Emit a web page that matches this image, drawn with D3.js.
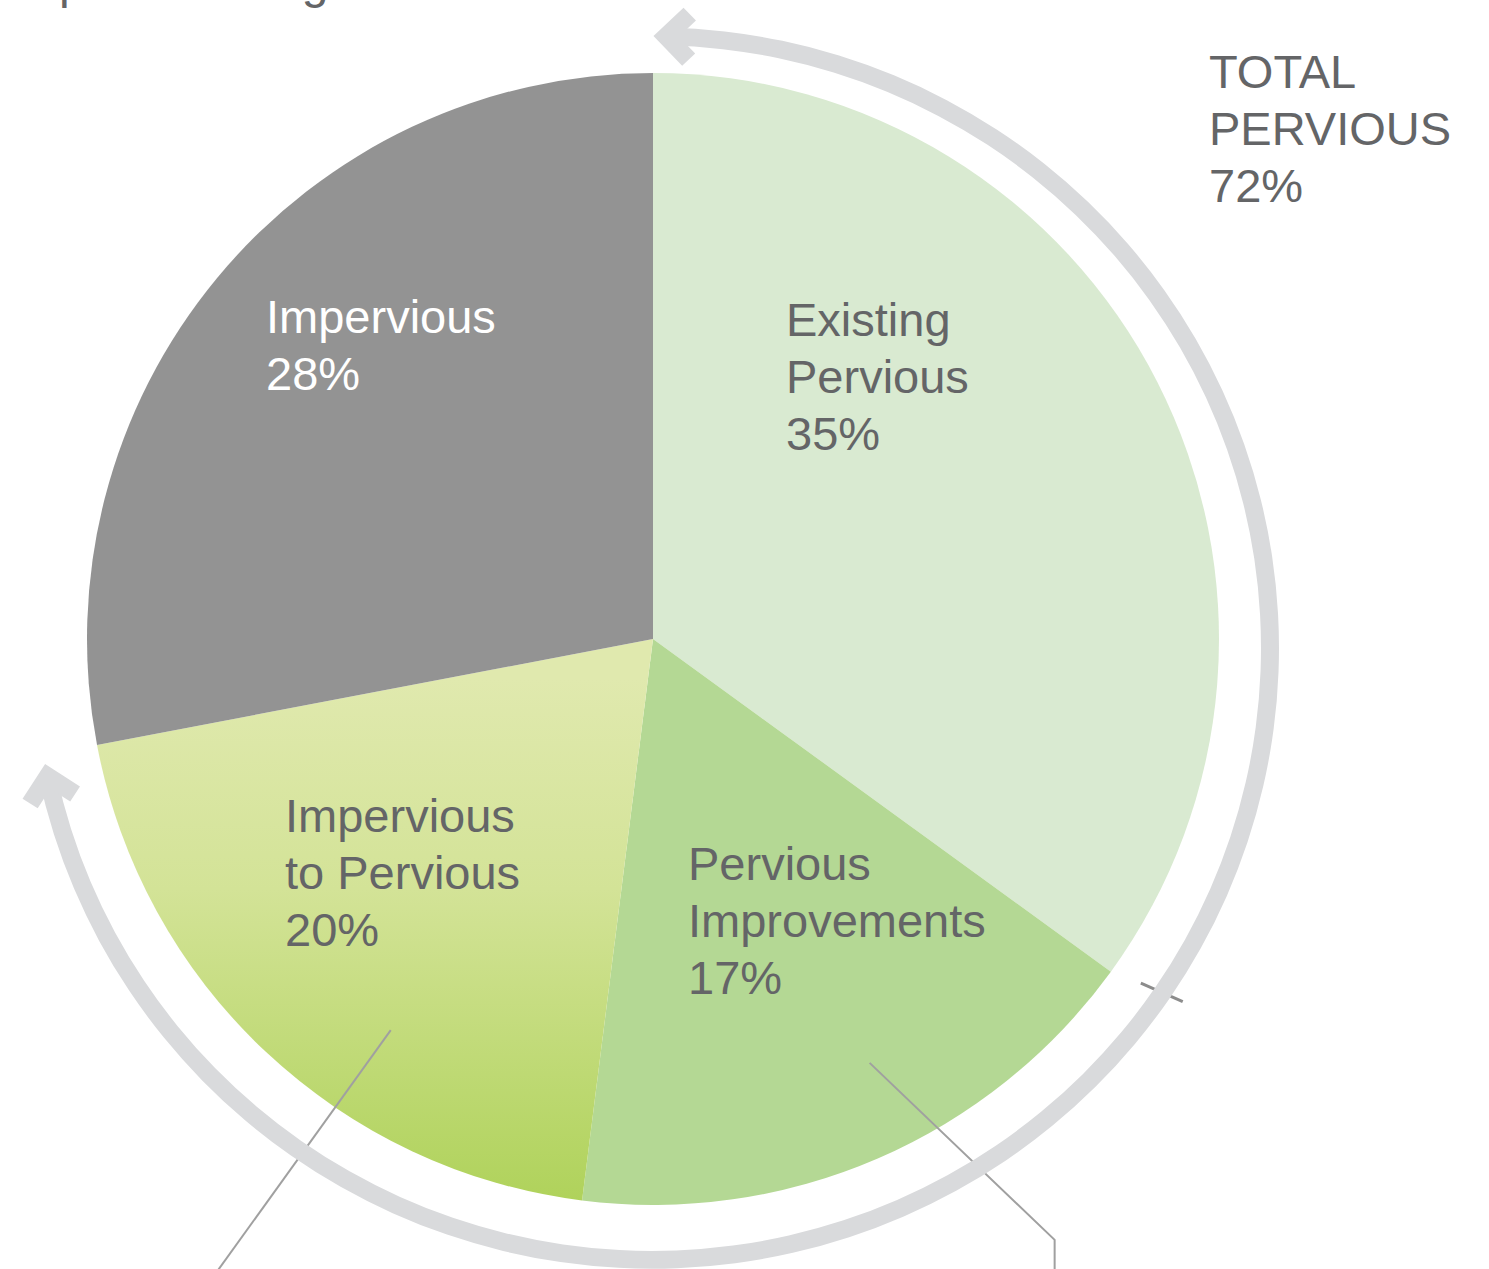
<!DOCTYPE html>
<html>
<head>
<meta charset="utf-8">
<script src="https://cdn.jsdelivr.net/npm/d3@7"></script>
<style>
  body { margin: 0; background: #fff; }
  svg { display: block; }
</style>
</head>
<body>
<script>
// slice data, clockwise from 12 o'clock
let categories = ["Existing Pervious", "Pervious Improvements", "Impervious to Pervious", "Impervious"];
let labelLines = [["Existing", "Pervious"], ["Pervious", "Improvements"], ["Impervious", "to Pervious"], ["Impervious"]];
let shares = [35, 17, 20, 28];
let perviousTotal = 72; // share covered by the outer arrow
let totalLines = ["TOTAL", "PERVIOUS"];

let svg = d3.select("body").append("svg")
	.attr("width", 1489)
	.attr("height", 1269);

let width = +svg.attr("width");
let height = +svg.attr("height");

let cx = 653, cy = 639, radius = 566; // pie
let ringCx = 652, ringCy = 648, ringR = 618, ringSquash = 0.99; // outer arrow

let textGray = "#646567";
let fills = ["#d9ead1", "#b4d894", "url(#convGrad)", "#939393"];
let labelFill = [textGray, textGray, textGray, "#ffffff"];
let labelPos = [[786, 336], [688, 880], [285, 832], [266, 333]];
let lineGap = 57;

// gradient for the converted slice (in the pie group's coordinates)
let defs = svg.append("defs");
let grad = defs.append("linearGradient")
	.attr("id", "convGrad")
	.attr("gradientUnits", "userSpaceOnUse")
	.attr("x1", 0).attr("x2", 0)
	.attr("y1", 40).attr("y2", radius);
grad.append("stop").attr("offset", "0%").attr("stop-color", "#e0e9ae");
grad.append("stop").attr("offset", "40%").attr("stop-color", "#d3e397");
grad.append("stop").attr("offset", "100%").attr("stop-color", "#afd25a");

// cropped heading at the top edge
svg.append("text")
	.attr("x", 27)
	.attr("y", -2)
	.attr("font-family", "Liberation Sans, Arial, sans-serif")
	.attr("font-size", 48)
	.attr("fill", textGray)
	.text("Spatial Change");

let pie = d3.pie().sort(null).value(d => d);
let arcs = pie(shares);

let arc = d3.arc().innerRadius(0).outerRadius(radius);

let g = svg.append("g")
	.attr("transform", `translate(${cx}, ${cy})`);

g.selectAll("path.slice")
	.data(arcs)
	.enter().append("path")
		.attr("class", "slice")
		.attr("d", arc)
		.attr("fill", (d, i) => fills[i]);

// outer ring arrow for total pervious
let angle = d3.scaleLinear().domain([0, 100]).range([0, 2 * Math.PI]);
let pad = 0.023;
let a0 = angle(0) + pad;
let a1 = angle(perviousTotal) - pad;

let ring = svg.append("g")
	.attr("transform", `translate(${ringCx}, ${ringCy}) scale(1, ${ringSquash})`);

let ringColor = "#d9dadc";
let ringW = 18;

ring.append("path")
	.attr("d", d3.arc().innerRadius(ringR - ringW / 2).outerRadius(ringR + ringW / 2)
		.startAngle(a0).endAngle(a1)())
	.attr("fill", ringColor);

function chevron(a, dir) {
	// dir = 1 points clockwise, -1 counterclockwise
	let px = ringR * Math.sin(a), py = -ringR * Math.cos(a);
	let rot = Math.atan2(Math.sin(a) * dir, Math.cos(a) * dir) * 180 / Math.PI;
	let L = 23;
	ring.append("path")
		.attr("d", d3.line()([[-L, -L], [0, 0], [-L, L]]))
		.attr("transform", `translate(${px}, ${py}) rotate(${rot})`)
		.attr("fill", "none")
		.attr("stroke", ringColor)
		.attr("stroke-width", ringW)
		.attr("stroke-linejoin", "miter")
		.attr("stroke-linecap", "butt");
}
chevron(a0, -1);
chevron(a1, 1);

// tick on the ring where existing pervious ends
let tickIn = arcs[0].endAngle - 0.014;
let tickOut = arcs[0].endAngle - 0.028;
g.append("line")
	.attr("x1", 597 * Math.sin(tickIn)).attr("y1", -597 * Math.cos(tickIn))
	.attr("x2", 642 * Math.sin(tickOut)).attr("y2", -642 * Math.cos(tickOut))
	.attr("stroke", "#8c8c8c")
	.attr("stroke-width", 3);

// leader lines running off the bottom
let leaders = [
	{ slice: 2, t: 0.37, r: 0.832, path: [[0, 0], [-190, 264]] },
	{ slice: 1, t: 0.44, r: 0.841, path: [[0, 0], [185, 177], [185, 240]] }
];
leaders.forEach(l => {
	let s = arcs[l.slice];
	let a = s.startAngle + (s.endAngle - s.startAngle) * l.t;
	let x0 = radius * l.r * Math.sin(a), y0 = -radius * l.r * Math.cos(a);
	g.append("path")
		.attr("d", d3.line()(l.path.map(p => [x0 + p[0], y0 + p[1]])))
		.attr("fill", "none")
		.attr("stroke", "#a0a0a0")
		.attr("stroke-width", 2);
});

// slice labels
arcs.forEach((d, i) => {
	let lines = labelLines[i].concat([shares[i] + "%"]);
	let t = svg.append("text")
		.attr("font-family", "Liberation Sans, Arial, sans-serif")
		.attr("font-size", 47)
		.attr("fill", labelFill[i]);
	lines.forEach((s, k) => {
		t.append("tspan")
			.attr("x", labelPos[i][0])
			.attr("y", labelPos[i][1] + k * lineGap)
			.text(s);
	});
});

// total label
let tt = svg.append("text")
	.attr("font-family", "Liberation Sans, Arial, sans-serif")
	.attr("font-size", 47)
	.attr("fill", textGray);
totalLines.concat([perviousTotal + "%"]).forEach((s, k) => {
	tt.append("tspan")
		.attr("x", 1209)
		.attr("y", 88 + k * lineGap)
		.text(s);
});
</script>
</body>
</html>
